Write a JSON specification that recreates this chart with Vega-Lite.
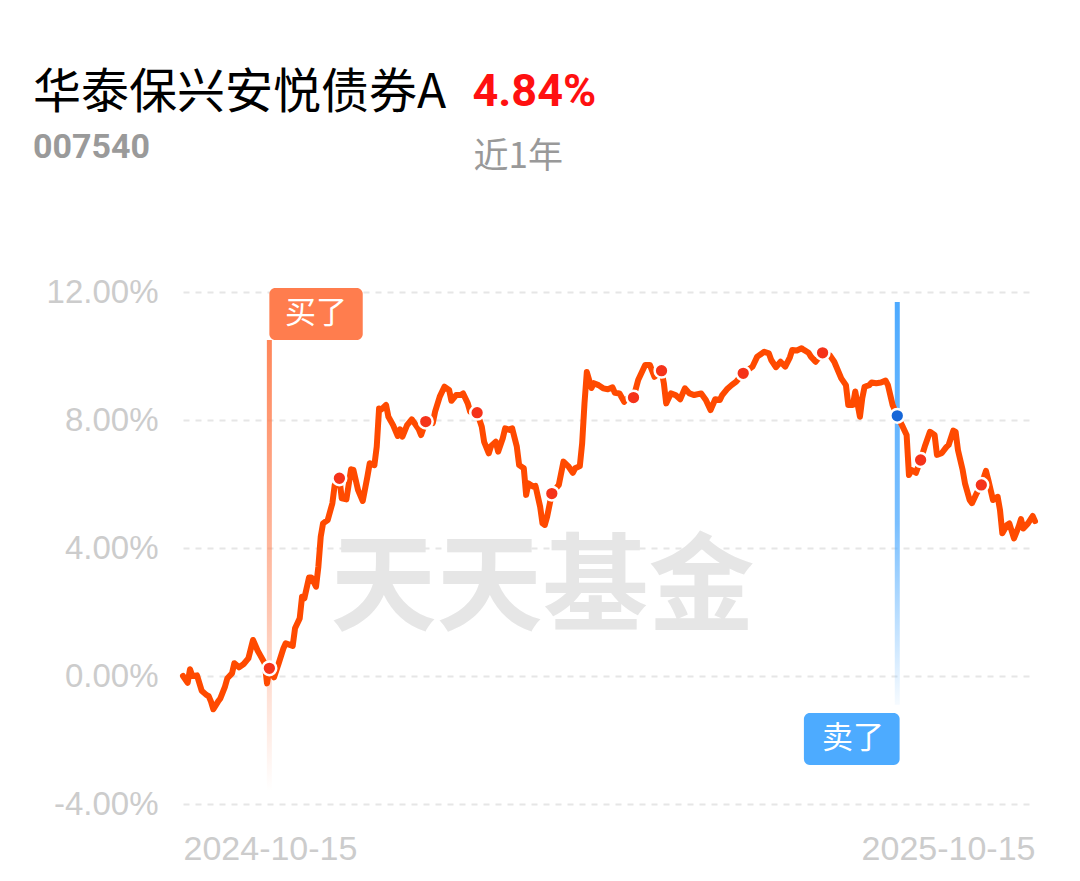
{
  "$schema": "https://vega.github.io/schema/vega-lite/v6.json",
  "width": 852,
  "height": 512,
  "autosize": {"type": "none"},
  "padding": {"left": 183, "top": 292, "right": 45, "bottom": 77},
  "background": "#ffffff",
  "config": {"view": {"stroke": null}},
  "title": {
    "text": "华泰保兴安悦债券A",
    "subtitle": "007540",
    "anchor": "start",
    "frame": "group",
    "dx": -150,
    "offset": -96,
    "font": "Noto Sans CJK SC",
    "fontSize": 48,
    "fontWeight": "normal",
    "color": "#000000",
    "subtitleFont": "Roboto",
    "subtitleFontSize": 34,
    "subtitleFontWeight": "bold",
    "subtitleColor": "#9a9a9a",
    "subtitlePadding": 13
  },
  "datasets": {
    "nav": [
      {"date": "2024-10-15", "ret": 0.0},
      {"date": "2024-10-17", "ret": -0.21},
      {"date": "2024-10-18", "ret": 0.21},
      {"date": "2024-10-19", "ret": 0.0},
      {"date": "2024-10-21", "ret": 0.02},
      {"date": "2024-10-23", "ret": -0.46},
      {"date": "2024-10-25", "ret": -0.59},
      {"date": "2024-10-26", "ret": -0.63},
      {"date": "2024-10-27", "ret": -0.8},
      {"date": "2024-10-28", "ret": -1.04},
      {"date": "2024-10-30", "ret": -0.8},
      {"date": "2024-10-31", "ret": -0.7},
      {"date": "2024-11-02", "ret": -0.33},
      {"date": "2024-11-03", "ret": -0.07},
      {"date": "2024-11-05", "ret": 0.08},
      {"date": "2024-11-06", "ret": 0.4},
      {"date": "2024-11-08", "ret": 0.27},
      {"date": "2024-11-10", "ret": 0.375},
      {"date": "2024-11-12", "ret": 0.55},
      {"date": "2024-11-14", "ret": 1.125},
      {"date": "2024-11-16", "ret": 0.79},
      {"date": "2024-11-17", "ret": 0.66},
      {"date": "2024-11-19", "ret": 0.4},
      {"date": "2024-11-20", "ret": -0.23},
      {"date": "2024-11-21", "ret": 0.24, "dot": "red"},
      {"date": "2024-11-23", "ret": -0.04},
      {"date": "2024-11-25", "ret": 0.4},
      {"date": "2024-11-27", "ret": 0.86},
      {"date": "2024-11-28", "ret": 1.02},
      {"date": "2024-12-01", "ret": 0.94},
      {"date": "2024-12-02", "ret": 1.49},
      {"date": "2024-12-04", "ret": 1.8},
      {"date": "2024-12-05", "ret": 2.48},
      {"date": "2024-12-06", "ret": 2.43},
      {"date": "2024-12-08", "ret": 3.08},
      {"date": "2024-12-09", "ret": 3.08},
      {"date": "2024-12-11", "ret": 2.79},
      {"date": "2024-12-12", "ret": 3.42},
      {"date": "2024-12-13", "ret": 4.35},
      {"date": "2024-12-14", "ret": 4.77},
      {"date": "2024-12-16", "ret": 4.875},
      {"date": "2024-12-18", "ret": 5.4},
      {"date": "2024-12-19", "ret": 5.97},
      {"date": "2024-12-21", "ret": 6.18, "dot": "red"},
      {"date": "2024-12-22", "ret": 5.55},
      {"date": "2024-12-24", "ret": 5.52},
      {"date": "2024-12-26", "ret": 6.46},
      {"date": "2024-12-27", "ret": 6.44},
      {"date": "2024-12-29", "ret": 5.81},
      {"date": "2024-12-31", "ret": 5.47},
      {"date": "2025-01-02", "ret": 6.23},
      {"date": "2025-01-03", "ret": 6.65},
      {"date": "2025-01-05", "ret": 6.59},
      {"date": "2025-01-06", "ret": 7.17},
      {"date": "2025-01-07", "ret": 8.36},
      {"date": "2025-01-08", "ret": 8.33},
      {"date": "2025-01-10", "ret": 8.47},
      {"date": "2025-01-11", "ret": 8.1},
      {"date": "2025-01-13", "ret": 7.84},
      {"date": "2025-01-15", "ret": 7.5},
      {"date": "2025-01-16", "ret": 7.71},
      {"date": "2025-01-17", "ret": 7.48},
      {"date": "2025-01-19", "ret": 7.84},
      {"date": "2025-01-21", "ret": 8.02},
      {"date": "2025-01-22", "ret": 7.92},
      {"date": "2025-01-24", "ret": 7.71},
      {"date": "2025-01-25", "ret": 7.53},
      {"date": "2025-01-27", "ret": 7.95, "dot": "red"},
      {"date": "2025-01-30", "ret": 7.9},
      {"date": "2025-01-31", "ret": 8.26},
      {"date": "2025-02-02", "ret": 8.73},
      {"date": "2025-02-04", "ret": 9.04},
      {"date": "2025-02-06", "ret": 8.94},
      {"date": "2025-02-07", "ret": 8.6},
      {"date": "2025-02-09", "ret": 8.78},
      {"date": "2025-02-11", "ret": 8.78},
      {"date": "2025-02-12", "ret": 8.83},
      {"date": "2025-02-14", "ret": 8.52},
      {"date": "2025-02-15", "ret": 8.26},
      {"date": "2025-02-18", "ret": 8.23, "dot": "red"},
      {"date": "2025-02-20", "ret": 7.79},
      {"date": "2025-02-21", "ret": 7.32},
      {"date": "2025-02-23", "ret": 6.96},
      {"date": "2025-02-24", "ret": 7.19},
      {"date": "2025-02-26", "ret": 7.32},
      {"date": "2025-02-27", "ret": 7.01},
      {"date": "2025-03-01", "ret": 7.43},
      {"date": "2025-03-02", "ret": 7.74},
      {"date": "2025-03-04", "ret": 7.69},
      {"date": "2025-03-05", "ret": 7.74},
      {"date": "2025-03-07", "ret": 7.17},
      {"date": "2025-03-08", "ret": 6.59},
      {"date": "2025-03-10", "ret": 6.49},
      {"date": "2025-03-11", "ret": 5.66},
      {"date": "2025-03-12", "ret": 6.02},
      {"date": "2025-03-14", "ret": 5.92},
      {"date": "2025-03-15", "ret": 5.94},
      {"date": "2025-03-17", "ret": 5.29},
      {"date": "2025-03-18", "ret": 4.77},
      {"date": "2025-03-19", "ret": 4.72},
      {"date": "2025-03-20", "ret": 4.98},
      {"date": "2025-03-22", "ret": 5.7, "dot": "red"},
      {"date": "2025-03-25", "ret": 5.97},
      {"date": "2025-03-27", "ret": 6.7},
      {"date": "2025-03-29", "ret": 6.56},
      {"date": "2025-03-31", "ret": 6.35},
      {"date": "2025-04-01", "ret": 6.49},
      {"date": "2025-04-03", "ret": 6.56},
      {"date": "2025-04-04", "ret": 7.27},
      {"date": "2025-04-05", "ret": 8.52},
      {"date": "2025-04-06", "ret": 9.5},
      {"date": "2025-04-08", "ret": 9.0},
      {"date": "2025-04-09", "ret": 9.15},
      {"date": "2025-04-11", "ret": 9.09},
      {"date": "2025-04-13", "ret": 8.99},
      {"date": "2025-04-15", "ret": 8.96},
      {"date": "2025-04-17", "ret": 9.02},
      {"date": "2025-04-18", "ret": 8.85},
      {"date": "2025-04-20", "ret": 8.83},
      {"date": "2025-04-22", "ret": 8.57},
      {"date": "2025-04-23", "ret": 8.65},
      {"date": "2025-04-26", "ret": 8.7, "dot": "red"},
      {"date": "2025-04-28", "ret": 9.25},
      {"date": "2025-05-01", "ret": 9.72},
      {"date": "2025-05-03", "ret": 9.72},
      {"date": "2025-05-05", "ret": 9.35},
      {"date": "2025-05-08", "ret": 9.54, "dot": "red"},
      {"date": "2025-05-09", "ret": 9.15},
      {"date": "2025-05-10", "ret": 8.52},
      {"date": "2025-05-12", "ret": 8.83},
      {"date": "2025-05-14", "ret": 8.78},
      {"date": "2025-05-16", "ret": 8.65},
      {"date": "2025-05-18", "ret": 8.99},
      {"date": "2025-05-20", "ret": 8.83},
      {"date": "2025-05-22", "ret": 8.78},
      {"date": "2025-05-25", "ret": 8.83},
      {"date": "2025-05-27", "ret": 8.625},
      {"date": "2025-05-29", "ret": 8.31},
      {"date": "2025-05-31", "ret": 8.65},
      {"date": "2025-06-02", "ret": 8.625},
      {"date": "2025-06-03", "ret": 8.78},
      {"date": "2025-06-05", "ret": 8.96},
      {"date": "2025-06-07", "ret": 9.09},
      {"date": "2025-06-09", "ret": 9.2},
      {"date": "2025-06-12", "ret": 9.46, "dot": "red"},
      {"date": "2025-06-16", "ret": 9.67},
      {"date": "2025-06-18", "ret": 9.98},
      {"date": "2025-06-21", "ret": 10.13},
      {"date": "2025-06-23", "ret": 10.08},
      {"date": "2025-06-24", "ret": 9.875},
      {"date": "2025-06-26", "ret": 9.65},
      {"date": "2025-06-28", "ret": 9.82},
      {"date": "2025-06-30", "ret": 9.67},
      {"date": "2025-07-02", "ret": 9.96},
      {"date": "2025-07-03", "ret": 10.19},
      {"date": "2025-07-05", "ret": 10.17},
      {"date": "2025-07-07", "ret": 10.24},
      {"date": "2025-07-08", "ret": 10.19},
      {"date": "2025-07-10", "ret": 10.1},
      {"date": "2025-07-11", "ret": 9.98},
      {"date": "2025-07-13", "ret": 9.82},
      {"date": "2025-07-16", "ret": 10.1, "dot": "red"},
      {"date": "2025-07-19", "ret": 10.03},
      {"date": "2025-07-21", "ret": 9.82},
      {"date": "2025-07-24", "ret": 9.3},
      {"date": "2025-07-26", "ret": 9.09},
      {"date": "2025-07-27", "ret": 8.47},
      {"date": "2025-07-29", "ret": 8.47},
      {"date": "2025-07-30", "ret": 8.89},
      {"date": "2025-08-01", "ret": 8.1},
      {"date": "2025-08-02", "ret": 8.68},
      {"date": "2025-08-03", "ret": 9.04},
      {"date": "2025-08-05", "ret": 9.09},
      {"date": "2025-08-06", "ret": 9.17},
      {"date": "2025-08-08", "ret": 9.15},
      {"date": "2025-08-10", "ret": 9.17},
      {"date": "2025-08-12", "ret": 9.23},
      {"date": "2025-08-13", "ret": 9.09},
      {"date": "2025-08-15", "ret": 8.47},
      {"date": "2025-08-17", "ret": 8.13, "dot": "blue"},
      {"date": "2025-08-19", "ret": 7.84},
      {"date": "2025-08-21", "ret": 7.53},
      {"date": "2025-08-22", "ret": 6.28},
      {"date": "2025-08-23", "ret": 6.44},
      {"date": "2025-08-25", "ret": 6.35},
      {"date": "2025-08-27", "ret": 6.75, "dot": "red"},
      {"date": "2025-08-29", "ret": 7.22},
      {"date": "2025-08-31", "ret": 7.63},
      {"date": "2025-09-02", "ret": 7.53},
      {"date": "2025-09-03", "ret": 6.91},
      {"date": "2025-09-05", "ret": 6.96},
      {"date": "2025-09-07", "ret": 7.15},
      {"date": "2025-09-08", "ret": 7.22},
      {"date": "2025-09-10", "ret": 7.67},
      {"date": "2025-09-11", "ret": 7.63},
      {"date": "2025-09-12", "ret": 7.06},
      {"date": "2025-09-14", "ret": 6.44},
      {"date": "2025-09-15", "ret": 6.02},
      {"date": "2025-09-17", "ret": 5.5},
      {"date": "2025-09-18", "ret": 5.4},
      {"date": "2025-09-20", "ret": 5.71},
      {"date": "2025-09-22", "ret": 5.97, "dot": "red"},
      {"date": "2025-09-24", "ret": 6.41},
      {"date": "2025-09-25", "ret": 6.125},
      {"date": "2025-09-27", "ret": 5.5},
      {"date": "2025-09-29", "ret": 5.6},
      {"date": "2025-09-30", "ret": 5.19},
      {"date": "2025-10-01", "ret": 4.46},
      {"date": "2025-10-03", "ret": 4.72},
      {"date": "2025-10-04", "ret": 4.77},
      {"date": "2025-10-06", "ret": 4.3},
      {"date": "2025-10-08", "ret": 4.67},
      {"date": "2025-10-09", "ret": 4.9},
      {"date": "2025-10-10", "ret": 4.61},
      {"date": "2025-10-12", "ret": 4.77},
      {"date": "2025-10-14", "ret": 5.0},
      {"date": "2025-10-15", "ret": 4.84}
    ],
    "flags": [
      {"kind": "buy", "label": "买了", "date": "2024-11-21", "lineTop": 10.5, "lineBottom": -3.6, "boxStart": "2024-11-21", "boxEnd": "2024-12-31", "boxTop": 12.125, "boxBottom": 10.5, "mid": "2024-12-11", "midY": 11.31},
      {"kind": "sell", "label": "卖了", "date": "2025-08-17", "lineTop": 11.69, "lineBottom": -0.9, "boxStart": "2025-07-08", "boxEnd": "2025-08-18", "boxTop": -1.16, "boxBottom": -2.78, "mid": "2025-07-29", "midY": -1.97}
    ],
    "watermark": [
      {"wm": "天天基金", "date": "2025-03-18", "ret": 2.7}
    ]
  },
  "encoding": {
    "x": {
      "field": "date",
      "type": "temporal",
      "scale": {
        "type": "utc",
        "padding": 0,
        "domain": [
          {"year": 2024, "month": 10, "date": 15, "utc": true},
          {"year": 2025, "month": 10, "date": 15, "utc": true}
        ]
      },
      "axis": {
        "values": [
          {"year": 2024, "month": 10, "date": 15, "utc": true},
          {"year": 2025, "month": 10, "date": 15, "utc": true}
        ],
        "labelExpr": "utcFormat(datum.value, '%Y-%m-%d')",
        "labelFlush": true,
        "grid": false,
        "domain": false,
        "ticks": false,
        "labelPadding": 28,
        "labelFont": "Liberation Sans",
        "labelFontSize": 34,
        "labelColor": "#cccccc",
        "title": "近1年",
        "titleFont": "Noto Sans CJK SC",
        "titleFontSize": 35,
        "titleFontWeight": "normal",
        "titleColor": "#999999",
        "titleAlign": "left",
        "titleBaseline": "alphabetic",
        "titleAngle": 0,
        "titleX": 290,
        "titleY": -637
      }
    },
    "y": {
      "field": "ret",
      "type": "quantitative",
      "scale": {"domain": [-4, 12], "nice": false, "zero": false},
      "axis": {
        "values": [-4, 0, 4, 8, 12],
        "labelExpr": "(datum.value < 0 ? '-' : '') + format(abs(datum.value), '.2f') + '%'",
        "grid": true,
        "gridColor": "#e6e6e6",
        "gridDash": [6, 6],
        "gridWidth": 2,
        "domain": false,
        "ticks": false,
        "labelPadding": 25,
        "labelFont": "Liberation Sans",
        "labelFontSize": 33,
        "labelColor": "#cccccc",
        "title": "4.84%",
        "titleFont": "Roboto",
        "titleFontSize": 45,
        "titleFontWeight": "bold",
        "titleColor": "#ff1010",
        "titleAlign": "left",
        "titleBaseline": "alphabetic",
        "titleAngle": 0,
        "titleX": 289,
        "titleY": -187
      }
    }
  },
  "layer": [
    {
      "data": {"name": "watermark"},
      "mark": {"type": "text", "font": "Noto Sans CJK SC", "fontSize": 106, "fontWeight": "bold", "color": "#e6e6e6", "align": "center", "baseline": "middle"},
      "encoding": {
        "text": {"field": "wm", "type": "nominal"}
      }
    },
    {
      "data": {"name": "flags"},
      "transform": [{"filter": "datum.kind === 'buy'"}],
      "mark": {
        "type": "bar",
        "width": 5,
        "clip": false,
        "color": {
          "gradient": "linear", "x1": 0, "y1": 0, "x2": 0, "y2": 1,
          "stops": [
            {"offset": 0, "color": "rgba(255,127,80,0.95)"},
            {"offset": 0.6, "color": "rgba(255,127,80,0.45)"},
            {"offset": 1, "color": "rgba(255,127,80,0)"}
          ]
        }
      },
      "encoding": {
        "y": {"field": "lineTop", "type": "quantitative"},
        "y2": {"field": "lineBottom"}
      }
    },
    {
      "data": {"name": "flags"},
      "transform": [{"filter": "datum.kind === 'sell'"}],
      "mark": {
        "type": "bar",
        "width": 5,
        "clip": false,
        "color": {
          "gradient": "linear", "x1": 0, "y1": 0, "x2": 0, "y2": 1,
          "stops": [
            {"offset": 0, "color": "rgba(77,170,255,1)"},
            {"offset": 0.55, "color": "rgba(77,170,255,0.75)"},
            {"offset": 1, "color": "rgba(77,170,255,0.05)"}
          ]
        }
      },
      "encoding": {
        "y": {"field": "lineTop", "type": "quantitative"},
        "y2": {"field": "lineBottom"}
      }
    },
    {
      "data": {"name": "nav"},
      "mark": {"type": "line", "color": "#ff4a00", "strokeWidth": 6, "strokeJoin": "round", "strokeCap": "round", "clip": false}
    },
    {
      "data": {"name": "nav"},
      "transform": [{"filter": "datum.dot === 'red'"}],
      "mark": {"type": "point", "filled": true, "size": 190, "color": "#f5331a", "stroke": "#ffffff", "strokeWidth": 2.5, "opacity": 1}
    },
    {
      "data": {"name": "nav"},
      "transform": [{"filter": "datum.dot === 'blue'"}],
      "mark": {"type": "point", "filled": true, "size": 190, "color": "#1566d8", "stroke": "#ffffff", "strokeWidth": 2.5, "opacity": 1}
    },
    {
      "data": {"name": "flags"},
      "mark": {"type": "rect", "cornerRadius": 6, "clip": false},
      "encoding": {
        "x": {"field": "boxStart", "type": "temporal"},
        "x2": {"field": "boxEnd"},
        "y": {"field": "boxTop", "type": "quantitative"},
        "y2": {"field": "boxBottom"},
        "color": {"field": "kind", "type": "nominal", "scale": {"domain": ["buy", "sell"], "range": ["#ff7d4e", "#4dabff"]}, "legend": null}
      }
    },
    {
      "data": {"name": "flags"},
      "mark": {"type": "text", "font": "Noto Sans CJK SC", "fontSize": 31, "color": "#ffffff", "align": "center", "baseline": "middle"},
      "encoding": {
        "x": {"field": "mid", "type": "temporal"},
        "y": {"field": "midY", "type": "quantitative"},
        "text": {"field": "label"}
      }
    }
  ]
}
